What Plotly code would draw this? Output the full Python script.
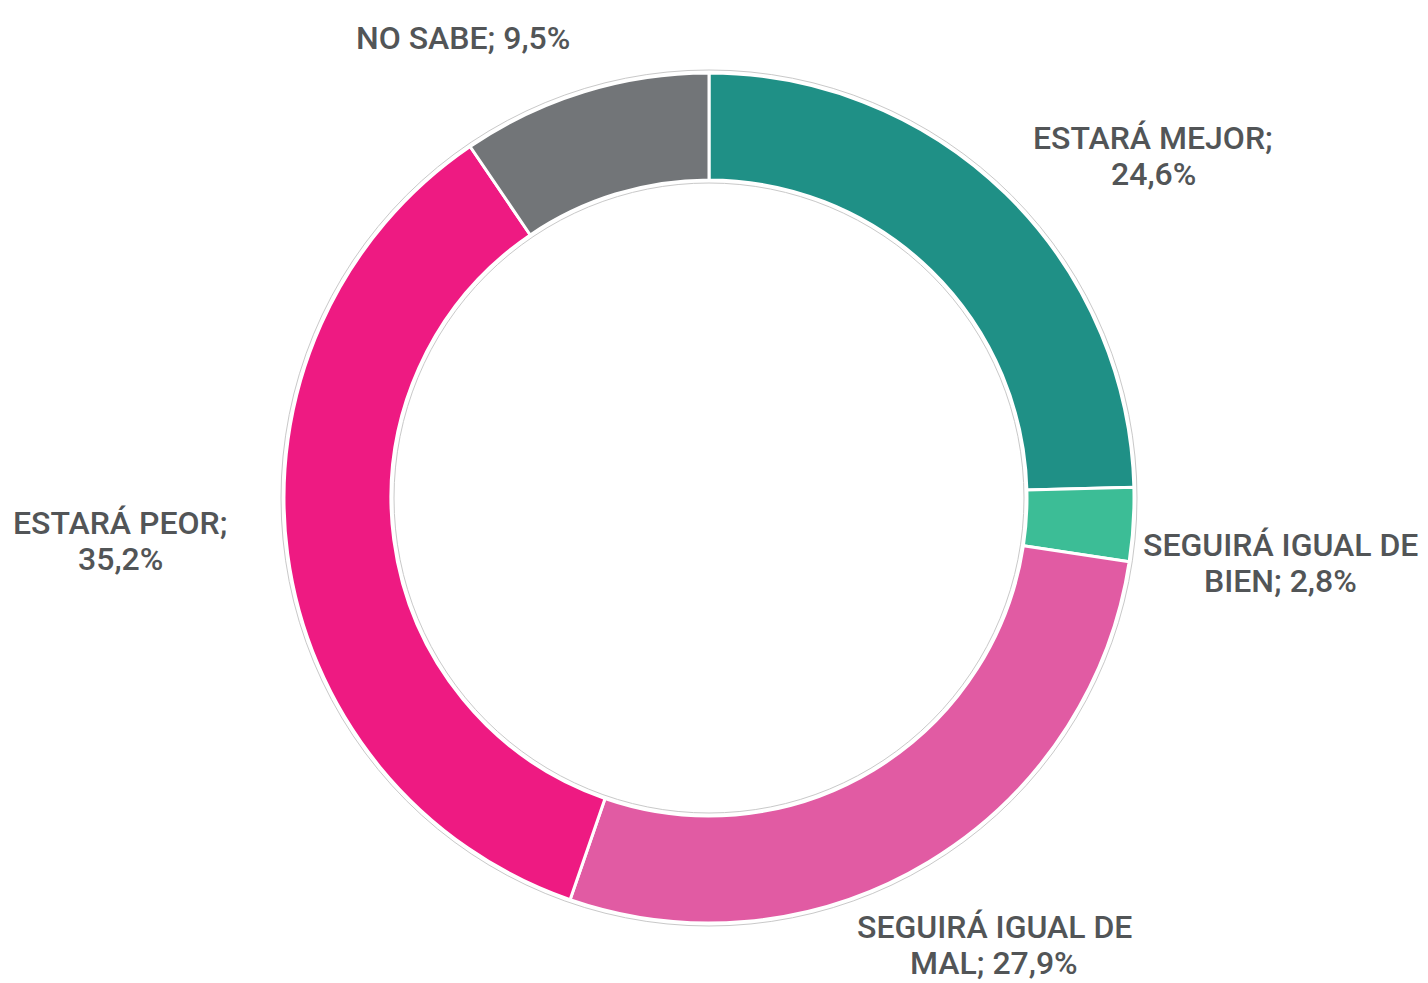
import plotly.graph_objects as go

# -----------------------------
# Data
# -----------------------------
labels = [
    "ESTARÁ MEJOR",
    "SEGUIRÁ IGUAL DE BIEN",
    "SEGUIRÁ IGUAL DE MAL",
    "ESTARÁ PEOR",
    "NO SABE",
]
values = [24.6, 2.8, 27.9, 35.2, 9.5]
label_text = [
    "ESTARÁ MEJOR;<br>24,6%",
    "SEGUIRÁ IGUAL DE<br>BIEN; 2,8%",
    "SEGUIRÁ IGUAL DE<br>MAL; 27,9%",
    "ESTARÁ PEOR;<br>35,2%",
    "NO SABE; 9,5%",
]
colors = ["#1F9086", "#3CBD96", "#E15BA3", "#EE1A82", "#727578"]

# -----------------------------
# Layout geometry (pixels, page has an 8px body margin)
# -----------------------------
OFF = 8
W, H = 1428 - 2 * OFF, 983 - OFF
cx, cy, R = 709 - OFF, 498 - OFF, 428
L, T = cx - R, cy - R
S = 2 * R
pad = 3 / S
LINE_GAP = 36

# label centres in page pixels
label_pos = [(1153, 156), (1280, 563), (994, 945), (120, 541), (463, 38)]

fig = go.Figure()

# thin grey rim behind the ring
fig.add_trace(
    go.Pie(
        values=[1],
        hole=315 / 428,
        marker=dict(colors=["white"], line=dict(color="#c9c9c9", width=1)),
        textinfo="none",
        hoverinfo="skip",
        showlegend=False,
        domain=dict(x=[0, 1], y=[0, 1]),
    )
)

fig.add_trace(
    go.Pie(
        labels=labels,
        values=values,
        hole=318 / 425,
        sort=False,
        direction="clockwise",
        rotation=0,
        marker=dict(colors=colors, line=dict(color="white", width=3)),
        textinfo="none",
        showlegend=False,
        domain=dict(x=[pad, 1 - pad], y=[pad, 1 - pad]),
    )
)

# one annotation per text line so the line spacing can be kept tight
for txt, (px, py) in zip(label_text, label_pos):
    lines = txt.split("<br>")
    n = len(lines)
    for i, line in enumerate(lines):
        ly = py + (i - (n - 1) / 2) * LINE_GAP
        fig.add_annotation(
            text=line,
            x=(px - OFF - L) / S,
            y=1 - (ly - OFF - T) / S,
            xref="paper",
            yref="paper",
            showarrow=False,
            xanchor="center",
            yanchor="middle",
            borderpad=0,
            font=dict(family="Roboto", size=32, color="#525557", weight=500),
        )

fig.update_layout(
    width=W,
    height=H,
    margin=dict(l=L, r=W - L - S, t=T, b=H - T - S),
    paper_bgcolor="white",
    plot_bgcolor="white",
    showlegend=False,
)

fig.write_html("out.html")
